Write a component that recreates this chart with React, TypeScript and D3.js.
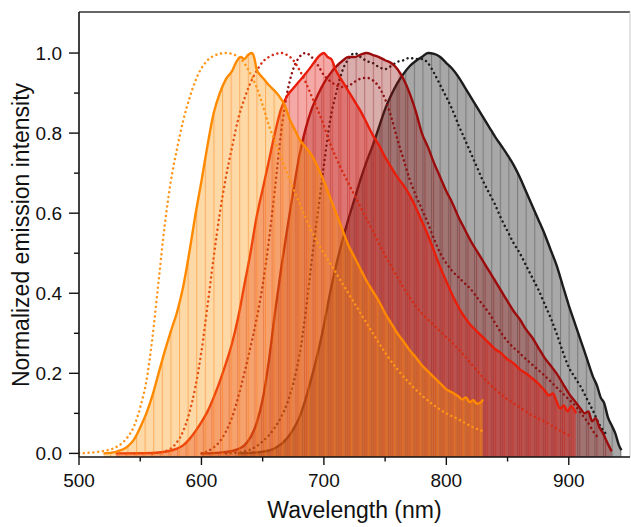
import React from "react";
import * as d3 from "d3";

type Pt = [number, number];

// ---------- DATA (wavelength nm, normalized intensity) ----------
const xTicks = [500, 600, 700, 800, 900];
const xMinorTicks = [550, 650, 750, 850];
const yTicks = [0, 0.2, 0.4, 0.6, 0.8, 1.0];
const yMinorTicks = [0.1, 0.3, 0.5, 0.7, 0.9];

const orangeSolid: Pt[] = [[520,0],[530,0.004],[540,0.018],[545,0.035],[550,0.065],[555,0.1],[560,0.145],[565,0.2],[570,0.255],[575,0.305],[580,0.352],[585,0.415],[590,0.5],[595,0.595],[600,0.68],[605,0.77],[610,0.85],[615,0.9],[620,0.935],[625,0.955],[628,0.975],[632,0.99],[635,0.985],[638,0.995],[641,1.0],[643,0.99],[645,0.96],[648,0.945],[651,0.935],[655,0.92],[660,0.905],[664,0.89],[668,0.87],[672,0.835],[676,0.81],[680,0.785],[685,0.765],[690,0.745],[695,0.715],[700,0.68],[705,0.64],[710,0.6],[715,0.56],[720,0.52],[725,0.49],[730,0.46],[735,0.43],[740,0.405],[745,0.38],[750,0.35],[755,0.325],[760,0.3],[765,0.28],[770,0.258],[775,0.24],[780,0.22],[785,0.205],[790,0.19],[795,0.175],[800,0.16],[805,0.152],[810,0.142],[813,0.135],[816,0.14],[819,0.128],[822,0.133],[825,0.124],[828,0.127],[830,0.135]];
const orangeDotted: Pt[] = [[500,0],[510,0.002],[520,0.006],[530,0.015],[535,0.025],[540,0.042],[545,0.068],[550,0.115],[555,0.18],[560,0.29],[565,0.43],[570,0.57],[575,0.68],[580,0.76],[585,0.83],[590,0.885],[595,0.93],[600,0.962],[605,0.982],[610,0.993],[615,0.998],[620,1.0],[625,0.998],[630,0.99],[635,0.975],[640,0.948],[645,0.915],[650,0.87],[655,0.82],[660,0.78],[665,0.74],[670,0.7],[680,0.625],[690,0.555],[700,0.5],[710,0.45],[720,0.4],[730,0.35],[740,0.3],[750,0.252],[760,0.21],[770,0.175],[780,0.145],[790,0.12],[800,0.1],[810,0.085],[820,0.068],[830,0.055]];

const redSolid: Pt[] = [[530,0],[560,0.001],[570,0.004],[580,0.012],[585,0.02],[590,0.035],[595,0.055],[600,0.078],[605,0.105],[610,0.14],[615,0.18],[620,0.225],[625,0.275],[630,0.34],[635,0.42],[640,0.5],[645,0.59],[650,0.66],[655,0.73],[660,0.8],[665,0.86],[670,0.893],[675,0.912],[680,0.93],[685,0.948],[690,0.968],[694,0.985],[697,0.995],[700,1.0],[703,0.99],[706,0.985],[710,0.955],[715,0.93],[720,0.905],[725,0.88],[730,0.855],[735,0.825],[740,0.795],[745,0.77],[750,0.74],[755,0.715],[760,0.69],[765,0.67],[770,0.645],[775,0.615],[780,0.58],[785,0.545],[790,0.505],[795,0.465],[800,0.43],[805,0.395],[810,0.365],[815,0.34],[820,0.32],[825,0.305],[830,0.29],[835,0.275],[840,0.26],[845,0.25],[850,0.235],[855,0.225],[860,0.21],[865,0.2],[870,0.188],[875,0.175],[880,0.158],[884,0.145],[887,0.15],[890,0.13],[893,0.112],[896,0.12],[899,0.105],[902,0.118],[906,0.1]];
const redDotted: Pt[] = [[560,0],[570,0.005],[575,0.012],[580,0.028],[585,0.055],[590,0.1],[595,0.165],[600,0.255],[605,0.37],[610,0.49],[615,0.6],[620,0.69],[625,0.765],[630,0.835],[635,0.885],[640,0.925],[645,0.955],[650,0.978],[655,0.99],[660,0.997],[665,1.0],[670,0.995],[675,0.982],[680,0.958],[685,0.928],[690,0.892],[695,0.858],[700,0.818],[705,0.775],[710,0.738],[720,0.675],[730,0.615],[740,0.555],[750,0.495],[760,0.44],[770,0.39],[780,0.35],[790,0.32],[800,0.29],[810,0.26],[820,0.225],[830,0.19],[840,0.16],[850,0.135],[860,0.115],[870,0.095],[880,0.08],[890,0.062],[900,0.045]];

const darkRedSolid: Pt[] = [[600,0],[615,0.002],[625,0.006],[635,0.02],[640,0.04],[645,0.075],[650,0.135],[655,0.23],[660,0.35],[665,0.46],[670,0.56],[675,0.655],[680,0.745],[685,0.81],[690,0.86],[695,0.895],[700,0.925],[705,0.948],[710,0.966],[715,0.98],[720,0.99],[725,0.99],[730,0.996],[735,1.0],[740,0.995],[745,0.99],[750,0.982],[755,0.975],[760,0.96],[765,0.935],[770,0.9],[775,0.855],[780,0.8],[785,0.765],[790,0.725],[795,0.69],[800,0.655],[805,0.625],[810,0.59],[815,0.56],[820,0.53],[825,0.505],[830,0.48],[835,0.455],[840,0.43],[845,0.405],[850,0.38],[855,0.355],[860,0.335],[865,0.31],[870,0.29],[875,0.265],[880,0.24],[885,0.22],[890,0.2],[895,0.175],[900,0.15],[905,0.13],[910,0.11],[913,0.1],[916,0.105],[919,0.08],[922,0.088],[925,0.065],[928,0.05],[931,0.03],[935,0.005]];
const darkRedDotted: Pt[] = [[600,0],[610,0.015],[615,0.03],[620,0.055],[625,0.09],[630,0.14],[635,0.2],[640,0.265],[645,0.335],[650,0.42],[655,0.53],[660,0.66],[665,0.8],[670,0.9],[675,0.96],[680,0.99],[685,1.0],[690,0.99],[695,0.97],[700,0.945],[705,0.93],[710,0.92],[715,0.915],[720,0.918],[725,0.928],[730,0.936],[735,0.938],[740,0.932],[745,0.915],[750,0.885],[755,0.84],[760,0.785],[765,0.735],[770,0.685],[775,0.645],[780,0.61],[785,0.575],[790,0.535],[795,0.5],[800,0.475],[805,0.455],[810,0.44],[815,0.425],[820,0.41],[825,0.39],[830,0.37],[835,0.35],[840,0.325],[845,0.3],[850,0.28],[860,0.25],[870,0.222],[880,0.195],[890,0.165],[900,0.135],[905,0.12],[910,0.1],[915,0.08],[920,0.055],[925,0.035]];

const blackSolid: Pt[] = [[630,0],[650,0.004],[660,0.013],[670,0.038],[675,0.06],[680,0.09],[685,0.135],[690,0.19],[695,0.25],[700,0.32],[705,0.4],[710,0.47],[715,0.53],[720,0.585],[725,0.635],[730,0.685],[735,0.73],[740,0.77],[745,0.815],[750,0.86],[755,0.895],[760,0.925],[765,0.948],[770,0.967],[775,0.98],[780,0.99],[785,1.0],[790,0.998],[795,0.99],[800,0.975],[805,0.96],[810,0.94],[815,0.915],[820,0.89],[825,0.865],[830,0.84],[835,0.815],[840,0.79],[845,0.768],[850,0.745],[855,0.72],[860,0.69],[865,0.655],[870,0.62],[875,0.585],[880,0.55],[885,0.51],[890,0.47],[895,0.42],[900,0.37],[905,0.325],[910,0.28],[915,0.235],[920,0.19],[923,0.17],[926,0.14],[929,0.125],[932,0.09],[935,0.07],[938,0.05],[941,0.02],[943,0.008]];
const blackDotted: Pt[] = [[620,0],[635,0.005],[645,0.018],[650,0.03],[655,0.045],[660,0.065],[665,0.09],[670,0.125],[675,0.175],[680,0.245],[685,0.35],[690,0.48],[695,0.6],[700,0.72],[705,0.83],[710,0.9],[715,0.955],[720,0.985],[725,1.0],[730,0.99],[735,0.98],[740,0.975],[745,0.965],[750,0.96],[755,0.968],[760,0.978],[765,0.982],[770,0.988],[775,0.985],[780,0.985],[785,0.975],[790,0.95],[795,0.92],[800,0.89],[805,0.858],[810,0.82],[815,0.785],[820,0.75],[825,0.715],[830,0.68],[835,0.65],[840,0.62],[845,0.585],[850,0.555],[855,0.525],[860,0.5],[865,0.47],[870,0.44],[875,0.41],[880,0.375],[885,0.34],[890,0.3],[895,0.255],[900,0.215],[905,0.19],[910,0.165],[915,0.135],[920,0.105],[925,0.072],[930,0.05]];

// ---------- LAYOUT ----------
const W = 631;
const H = 527;
const plot = { left: 79, right: 630, top: 12, bottom: 457 };
const FONT = "'Liberation Sans', Arial, Helvetica, sans-serif";

const x = d3.scaleLinear().domain([500, 950]).range([plot.left, plot.right]);
const y = d3.scaleLinear().domain([-0.009, 1.1025]).range([plot.bottom, plot.top]);

const layers = [
  { id: "blk", solid: blackSolid, dotted: blackDotted, line: "#1c1c1c", dot: "#1c1c1c", fill: "#000000", fillOpacity: 0.34, stripe: "#000000", stripeOpacity: 0.26, offset: 1 },
  { id: "drd", solid: darkRedSolid, dotted: darkRedDotted, line: "#9c0c0c", dot: "#8e1212", fill: "#961414", fillOpacity: 0.35, stripe: "#7a0000", stripeOpacity: 0.32, offset: 3 },
  { id: "red", solid: redSolid, dotted: redDotted, line: "#ea1c0a", dot: "#d62a14", fill: "#e11e14", fillOpacity: 0.38, stripe: "#c81000", stripeOpacity: 0.32, offset: 5 },
  { id: "org", solid: orangeSolid, dotted: orangeDotted, line: "#ff8a00", dot: "#ff9416", fill: "#fa960e", fillOpacity: 0.36, stripe: "#ff7400", stripeOpacity: 0.42, offset: 7 },
];

const STRIPE = 8.6;

export default function App() {
  const area = d3
    .area<Pt>()
    .x((d) => x(d[0]))
    .y0(plot.bottom)
    .y1((d) => y(d[1]))
    .curve(d3.curveMonotoneX);
  const line = d3
    .line<Pt>()
    .x((d) => x(d[0]))
    .y((d) => y(d[1]))
    .curve(d3.curveMonotoneX);

  return (
    <svg
      width={W}
      height={H}
      viewBox={`0 0 ${W} ${H}`}
      style={{ position: "absolute", left: 0, top: 0, background: "#fff" }}
      fontFamily={FONT}
    >
      <defs>
        <clipPath id="plotclip">
          <rect x={plot.left} y={plot.top} width={plot.right - plot.left} height={plot.bottom - plot.top} />
        </clipPath>
        {layers.map((l) => (
          <pattern
            key={l.id}
            id={`stripe-${l.id}`}
            patternUnits="userSpaceOnUse"
            x={l.offset}
            y={0}
            width={STRIPE}
            height={20}
          >
            <line x1={0.5} y1={0} x2={0.5} y2={20} stroke={l.stripe} strokeOpacity={l.stripeOpacity} strokeWidth={1.2} />
          </pattern>
        ))}
      </defs>
      <rect x={0} y={0} width={W} height={H} fill="#fff" />

      <g clipPath="url(#plotclip)">
        {layers.map((l) => (
          <g key={l.id}>
            <path d={area(l.solid) || ""} fill={l.fill} fillOpacity={l.fillOpacity} />
            <path d={area(l.solid) || ""} fill={`url(#stripe-${l.id})`} />
            <path
              d={line(l.dotted) || ""}
              fill="none"
              stroke={l.dot}
              strokeWidth={2.5}
              strokeLinecap="round"
              strokeDasharray="0.01 4.8"
            />
            <path d={line(l.solid) || ""} fill="none" stroke={l.line} strokeWidth={2.4} strokeLinejoin="round" />
          </g>
        ))}
      </g>

      {/* frame */}
      <line x1={plot.left} y1={plot.top} x2={plot.right} y2={plot.top} stroke="#333" strokeWidth={1.6} />
      <line x1={plot.right} y1={plot.top} x2={plot.right} y2={plot.bottom} stroke="#c8c8c8" strokeWidth={1} />
      <line x1={plot.left} y1={plot.bottom} x2={plot.right} y2={plot.bottom} stroke="#111" strokeWidth={1.6} />
      <line x1={plot.left} y1={plot.top} x2={plot.left} y2={plot.bottom} stroke="#111" strokeWidth={1.6} />

      {/* x ticks */}
      {xTicks.map((t) => (
        <g key={`xt${t}`}>
          <line x1={x(t)} x2={x(t)} y1={plot.bottom} y2={plot.bottom + 8} stroke="#111" strokeWidth={1.4} />
          <text x={x(t)} y={487} textAnchor="middle" fontSize={19} fill="#111">
            {t}
          </text>
        </g>
      ))}
      {xMinorTicks.map((t) => (
        <line key={`xm${t}`} x1={x(t)} x2={x(t)} y1={plot.bottom} y2={plot.bottom + 4.5} stroke="#111" strokeWidth={1.4} />
      ))}

      {/* y ticks */}
      {yTicks.map((t) => (
        <g key={`yt${t}`}>
          <line x1={plot.left - 10} x2={plot.left} y1={y(t)} y2={y(t)} stroke="#111" strokeWidth={1.4} />
          <text x={62} y={y(t)} dy="0.35em" textAnchor="end" fontSize={19} fill="#111">
            {t.toFixed(1)}
          </text>
        </g>
      ))}
      {yMinorTicks.map((t) => (
        <line key={`ym${t}`} x1={plot.left - 5} x2={plot.left} y1={y(t)} y2={y(t)} stroke="#111" strokeWidth={1.4} />
      ))}

      {/* titles */}
      <text x={(plot.left + plot.right) / 2} y={518} textAnchor="middle" fontSize={23} fill="#111">
        Wavelength (nm)
      </text>
      <text transform={`translate(29,235) rotate(-90)`} textAnchor="middle" fontSize={23} fill="#111">
        Normalized emission intensity
      </text>
    </svg>
  );
}
